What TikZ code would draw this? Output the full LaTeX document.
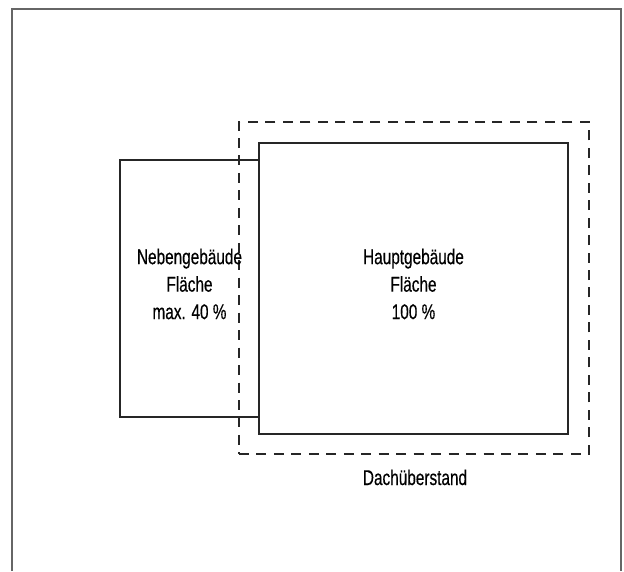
\documentclass[tikz,border=0pt]{standalone}
\usepackage{fontspec}
\setmainfont{Liberation Sans}[FakeStretch=0.72,FakeBold=0.4]
\begin{document}
\begin{tikzpicture}[x=0.75pt,y=-0.75pt,
  frameline/.style={draw=black!60,line width=1.2pt},
  bldg/.style={draw=black!85,line width=0.8pt,inner sep=0pt,outer sep=0pt,rectangle},
  roof/.style={draw=black!85,line width=0.8pt,dash pattern=on 7.5pt off 5.6pt,inner sep=0pt,outer sep=0pt,rectangle},
  lbl/.style={font=\fontsize{16}{20.6}\selectfont,align=center,inner sep=0pt}]
\useasboundingbox (0,0) rectangle (624,571);
% outer frame (bottom cut off)
\coordinate (fbl) at (12,571);
\coordinate (ftl) at (12,9);
\coordinate (ftr) at (621,9);
\coordinate (fbr) at (621,571);
\draw[frameline] (fbl) -- (ftl) -- (ftr) -- (fbr);
% buildings
\node[bldg,minimum width=104.25pt,minimum height=192.75pt] (neben) at (189.5,288.5) {};
\node[bldg,minimum width=231.75pt,minimum height=218.25pt] (haupt) at (413.5,288.5) {};
\node[roof,minimum width=262.5pt,minimum height=249pt] (dach) at (414,288) {};
% labels
\node[lbl] (nebentxt) at (189.5,284) {Nebengebäude\\Fläche\\max. 40 \%};
\node[lbl] (haupttxt) at (413.5,284) {Hauptgebäude\\Fläche\\100 \%};
\node[lbl,anchor=base] (dachtxt) at (415,485) {Dachüberstand};
\end{tikzpicture}
\end{document}
